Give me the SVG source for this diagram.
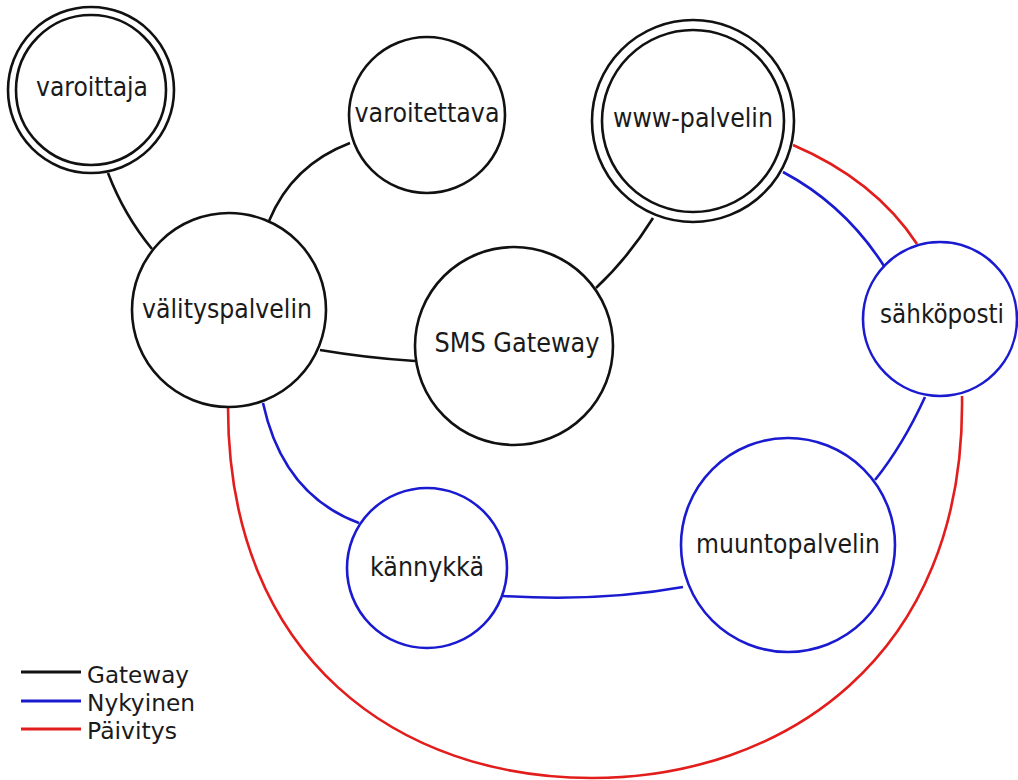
<svg xmlns="http://www.w3.org/2000/svg" width="1018" height="780" viewBox="0 0 1018 780">
<style>
  .n { fill: #ffffff; stroke-width: 2.6; }
  .k { stroke: #111111; }
  .b { stroke: #1a1ad0; }
  .e { fill: none; stroke-width: 2.6; }
  .eb { stroke: #111111; }
  .en { stroke: #1a1ad0; }
  .ep { stroke: #e31c1c; }
  text { font-family: "DejaVu Sans", Verdana, sans-serif; font-size: 26px; fill: #1a1a1a; text-anchor: middle; }
  .lg { text-anchor: start; font-size: 23.5px; }
</style>
<rect width="1018" height="780" fill="#ffffff"/>
<g id="connectors">
  <path class="e eb" d="M108,173 Q124,215 152,249"/>
  <path class="e eb" d="M350,143 Q292,165 269,221"/>
  <path class="e eb" d="M320,350 Q367,358 415,361"/>
  <path class="e eb" d="M653,218 Q628,258 596,288"/>
  <path class="e en" d="M263,403 Q283,495 359,523"/>
  <path class="e en" d="M503,596 Q600,602 683,587"/>
  <path class="e en" d="M925,397 Q903,445 875,480"/>
  <path class="e en" d="M783,172 Q845,205 884,266"/>
  <path class="e ep" d="M793,145 Q875,180 917,244"/>
  <path class="e ep" d="M228,407 C228,660 400,778 592,778 C780,778 966,660 962,396"/>
</g>
<g id="varoittaja">
  <circle class="n k" cx="91" cy="90" r="83"/>
  <circle class="n k" cx="91" cy="90" r="75"/>
  <text x="92" y="96" textLength="112" lengthAdjust="spacingAndGlyphs">varoittaja</text>
</g>
<g id="varoitettava">
  <circle class="n k" cx="427" cy="115" r="78"/>
  <text x="427" y="122" textLength="145" lengthAdjust="spacingAndGlyphs">varoitettava</text>
</g>
<g id="www-palvelin">
  <circle class="n k" cx="693" cy="121" r="101"/>
  <circle class="n k" cx="693" cy="121" r="91"/>
  <text x="693" y="127" textLength="160" lengthAdjust="spacingAndGlyphs">www-palvelin</text>
</g>
<g id="valityspalvelin">
  <circle class="n k" cx="229" cy="310" r="97"/>
  <text x="227" y="318" textLength="170" lengthAdjust="spacingAndGlyphs">välityspalvelin</text>
</g>
<g id="sms-gateway">
  <circle class="n k" cx="514" cy="346" r="99"/>
  <text x="517" y="352" textLength="165" lengthAdjust="spacingAndGlyphs">SMS Gateway</text>
</g>
<g id="sahkoposti">
  <circle class="n b" cx="940" cy="319" r="77"/>
  <text x="942" y="323" textLength="124" lengthAdjust="spacingAndGlyphs">sähköposti</text>
</g>
<g id="muuntopalvelin">
  <circle class="n b" cx="788" cy="545" r="107"/>
  <text x="788" y="553" textLength="184" lengthAdjust="spacingAndGlyphs">muuntopalvelin</text>
</g>
<g id="kannykka">
  <circle class="n b" cx="427" cy="568" r="80"/>
  <text x="427" y="576" textLength="114" lengthAdjust="spacingAndGlyphs">kännykkä</text>
</g>
<g id="legend">
  <line x1="21" y1="672" x2="81" y2="672" stroke="#111111" stroke-width="3"/>
  <line x1="21" y1="701" x2="81" y2="701" stroke="#1a1ad0" stroke-width="3"/>
  <line x1="21" y1="729" x2="81" y2="729" stroke="#e31c1c" stroke-width="3"/>
  <text class="lg" x="87" y="683" textLength="102" lengthAdjust="spacingAndGlyphs">Gateway</text>
  <text class="lg" x="87" y="711" textLength="108" lengthAdjust="spacingAndGlyphs">Nykyinen</text>
  <text class="lg" x="87" y="739" textLength="90" lengthAdjust="spacingAndGlyphs">Päivitys</text>
</g>
</svg>
